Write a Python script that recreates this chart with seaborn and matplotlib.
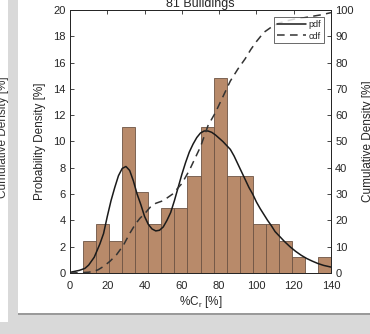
import numpy as np
import pandas as pd
import matplotlib
matplotlib.use("Agg")
import matplotlib.pyplot as plt
import seaborn as sns
from matplotlib.lines import Line2D
from matplotlib.patches import Rectangle

# ---------------- data ----------------
n_buildings = 81
bin_edges = [7, 14, 21, 28, 35, 42, 49, 56, 63, 70, 77, 84, 91, 98, 105, 112, 119, 126, 133, 140]
bin_counts = [2, 3, 2, 9, 5, 3, 4, 4, 6, 9, 12, 6, 6, 3, 3, 2, 1, 0, 1]

pdf_x = [0, 5, 8, 10, 13, 16, 18, 20, 22, 24, 26, 28, 30, 32, 34, 36, 38, 40, 42, 44, 46, 48,
         50, 52, 54, 56, 58, 60, 62, 64, 66, 68, 70, 72, 74, 76, 78, 80, 82, 84, 86, 88, 90,
         92, 94, 96, 98, 100, 102, 104, 106, 108, 110, 112, 115, 118, 121, 124, 127, 130,
         133, 136, 140]
pdf_y = [0.05, 0.2, 0.35, 0.6, 1.2, 2.2, 3.0, 4.3, 5.5, 6.5, 7.4, 7.95, 8.1, 7.8, 7.0, 6.0, 5.2,
         4.3, 3.7, 3.35, 3.2, 3.25, 3.5, 4.0, 4.6, 5.5, 6.5, 7.5, 8.4, 9.2, 9.8, 10.3, 10.65,
         10.8, 10.8, 10.7, 10.5, 10.25, 10.0, 9.7, 9.4, 8.9, 8.3, 7.7, 7.1, 6.5, 6.0, 5.4, 4.9,
         4.45, 4.0, 3.6, 3.15, 2.85, 2.4, 2.0, 1.65, 1.35, 1.1, 0.9, 0.72, 0.58, 0.45]

cdf_x = [0, 5, 10, 12.5, 15, 18, 21.5, 25, 28.6, 32, 35, 37.5, 40, 43, 46, 50, 55, 60, 64, 67,
         70, 74, 78, 82, 86, 90, 94, 97, 100, 104, 108, 112, 116, 120, 125, 130, 135, 140]
cdf_y = [0, 0.1, 0.3, 0.6, 1.2, 2.5, 4.5, 7.0, 10.5, 15, 18.5, 20.8, 22.5, 25, 26.5, 27.5, 30,
         34, 39, 43.5, 48, 56, 61, 67, 73, 77.5, 81.5, 85, 88, 91.5, 93.5, 95, 95.8, 96.5, 97,
         97.6, 98.2, 99]

x_ticks = [0, 20, 40, 60, 80, 100, 120, 140]
y_ticks = [0, 2, 4, 6, 8, 10, 12, 14, 16, 18, 20]
y2_ticks = [0, 10, 20, 30, 40, 50, 60, 70, 80, 90, 100]

title = "81 Buildings"
xlabel = "%C$_r$ [%]"
ylabel = "Probability Density [%]"
y2label = "Cumulative Density [%]"

# ---------------- figure ----------------
sns.set_theme(style="white")
plt.rcParams['font.family'] = ['Liberation Sans', 'DejaVu Sans']
plt.rcParams['mathtext.fontset'] = 'custom'
plt.rcParams['mathtext.rm'] = 'Liberation Sans'
plt.rcParams['mathtext.it'] = 'Liberation Sans'

W, H = 370, 334
fig = plt.figure(figsize=(W / 100, H / 100), dpi=100, facecolor='#d9d9d9')

# white panels of the screenshot
fig.patches.append(Rectangle((0, (H - 322) / H), 8 / W, 322 / H, transform=fig.transFigure,
                             facecolor='white', edgecolor='none', zorder=-10))
fig.patches.append(Rectangle((18 / W, (H - 313) / H), 1 - 18 / W, 313 / H, transform=fig.transFigure,
                             facecolor='white', edgecolor='none', zorder=-10))
fig.patches.append(Rectangle((18 / W, (H - 315) / H), 1 - 18 / W, 2 / H, transform=fig.transFigure,
                             facecolor='#9a9a9a', edgecolor='none', zorder=-9))
fig.text(3 / W, 1 - 137 / H, y2label, rotation=90, ha='center', va='center',
         fontsize=8.5, color='#333333')

ax = fig.add_axes([70 / W, (H - 273) / H, (331 - 70) / W, (273 - 10) / H])
ax.set_facecolor('white')

centers = [(a + b) / 2 for a, b in zip(bin_edges[:-1], bin_edges[1:])]
pct = [c / n_buildings * 100 for c in bin_counts]
df = pd.DataFrame({'x': centers, 'w': pct})
sns.histplot(data=df, x='x', weights='w', bins=bin_edges, ax=ax, stat='count',
             color='#b88a6a', edgecolor='#6e5444', linewidth=0.6, alpha=1.0)

pdf_df = pd.DataFrame({'x': pdf_x, 'y': pdf_y})
sns.lineplot(data=pdf_df, x='x', y='y', ax=ax, color='#1a1a1a', linewidth=1.1, sort=True)

ax.set_xlim(0, 140)
ax.set_ylim(0, 20)
ax.set_xticks(x_ticks)
ax.set_yticks(y_ticks)
ax.set_xlabel(xlabel, fontsize=8.5, labelpad=2, color='#262626')
ax.set_ylabel(ylabel, fontsize=8.5, labelpad=5, color='#262626')
ax.set_title(title, fontsize=9, pad=1.5, color='#262626')
ax.tick_params(axis='y', direction='in', length=3, width=0.6, labelsize=8, colors='#262626',
               left=True, right=False, pad=3)
ax.tick_params(axis='x', direction='in', length=3, width=0.6, labelsize=8, colors='#262626',
               top=True, bottom=True, pad=6)

ax2 = ax.twinx()
cdf_df = pd.DataFrame({'x': cdf_x, 'y': cdf_y})
sns.lineplot(data=cdf_df, x='x', y='y', ax=ax2, color='#333333', linewidth=1.1,
             linestyle=(0, (5, 3.5)), sort=True)
ax2.set_ylim(0, 100)
ax2.set_xlim(0, 140)
ax2.set_yticks(y2_ticks)
ax2.set_ylabel(y2label, fontsize=8.5, labelpad=6, color='#262626')
ax2.tick_params(direction='in', length=3, width=0.6, labelsize=8, colors='#262626', pad=3)

for a in (ax, ax2):
    for s in a.spines.values():
        s.set_color('#262626')
        s.set_linewidth(0.7)
        s.set_visible(True)

handles = [Line2D([], [], color='#1a1a1a', lw=1.1),
           Line2D([], [], color='#333333', lw=1.1, linestyle=(0, (5, 3.5)))]
leg = ax2.legend(handles, ['pdf', 'cdf'], loc='upper right', fontsize=6.5, frameon=True,
                 fancybox=False, borderaxespad=0.8, handlelength=3.2, handletextpad=0.3,
                 labelspacing=0.3, borderpad=0.3)
leg.get_frame().set_edgecolor('#262626')
leg.get_frame().set_linewidth(0.6)

fig.savefig('out.png', dpi=100, facecolor=fig.get_facecolor())
